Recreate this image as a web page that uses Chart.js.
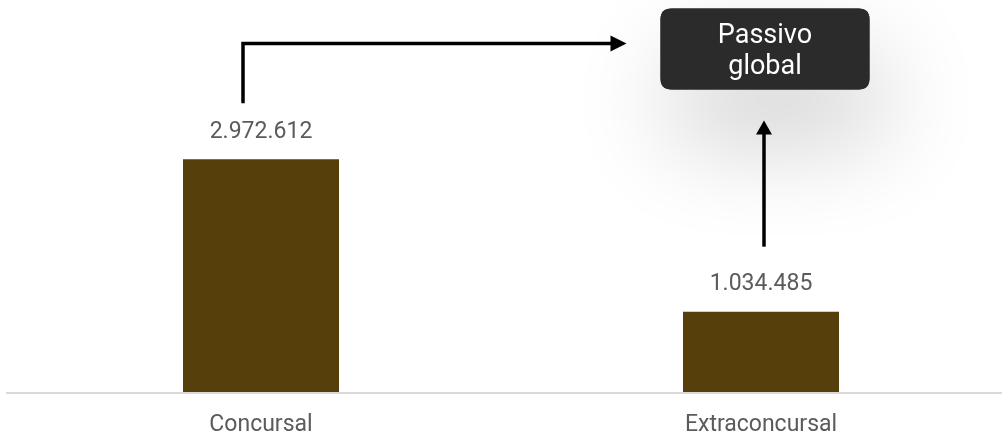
<!DOCTYPE html>
<html><head><meta charset="utf-8">
<script src="https://cdn.jsdelivr.net/npm/chart.js@4.4.1/dist/chart.umd.min.js"></script>
<style>
html,body{margin:0;padding:0;background:#fff;overflow:hidden;width:1002px;height:438px}
#wrap{position:relative;width:1016px;height:438px}
canvas{display:block}
</style></head><body><div id="wrap"><canvas id="c" width="1016" height="438"></canvas></div>
<script>
const categories = ['Concursal', 'Extraconcursal'];
const values = [2972612, 1034485];
const boxLabel = ['Passivo', 'global'];
const yMax = 5000000;

const barColor = '#563f0b';
const textColor = '#5b5b5b';

function fmt(n) {
  return String(Math.round(n)).replace(/\B(?=(\d{3})+(?!\d))/g, '.');
}

function roundRect(ctx, x, y, w, h, r) {
  ctx.beginPath();
  ctx.moveTo(x + r, y);
  ctx.lineTo(x + w - r, y);
  ctx.quadraticCurveTo(x + w, y, x + w, y + r);
  ctx.lineTo(x + w, y + h - r);
  ctx.quadraticCurveTo(x + w, y + h, x + w - r, y + h);
  ctx.lineTo(x + r, y + h);
  ctx.quadraticCurveTo(x, y + h, x, y + h - r);
  ctx.lineTo(x, y + r);
  ctx.quadraticCurveTo(x, y, x + r, y);
  ctx.closePath();
}

const overlay = {
  id: 'overlay',
  afterDatasetsDraw(chart) {
    const ctx = chart.ctx;
    const meta = chart.getDatasetMeta(0);
    const yScale = chart.scales.y;
    const base = yScale.getPixelForValue(0);

    // baseline
    ctx.save();
    ctx.strokeStyle = '#d9d9d9';
    ctx.lineWidth = 2;
    ctx.beginPath();
    ctx.moveTo(6, base);
    ctx.lineTo(1002, base);
    ctx.stroke();
    ctx.restore();

    // value labels
    ctx.save();
    ctx.font = '23px Roboto';
    ctx.fillStyle = textColor;
    ctx.textAlign = 'center';
    ctx.textBaseline = 'middle';
    meta.data.forEach((bar, i) => {
      ctx.fillText(fmt(values[i]), bar.x, bar.y - 27);
    });
    ctx.restore();

    const b1 = meta.data[0], b2 = meta.data[1];
    const boxCx = b2.x + 4;
    const boxW = 209, boxH = 81, boxTop = 8.5;
    const boxL = boxCx - boxW / 2;

    // box with soft shadow
    ctx.save();
    ctx.shadowColor = 'rgba(0,0,0,0.2)';
    ctx.shadowBlur = 100;
    ctx.shadowOffsetY = 50;
    ctx.shadowOffsetX = 12;
    ctx.fillStyle = '#2b2b2b';
    roundRect(ctx, boxL, boxTop, boxW, boxH, 11);
    ctx.fill();
    ctx.restore();
    ctx.save();
    ctx.fillStyle = '#2b2b2b';
    roundRect(ctx, boxL, boxTop, boxW, boxH, 11);
    ctx.fill();
    ctx.fillStyle = '#ffffff';
    ctx.font = '27px Roboto';
    ctx.textAlign = 'center';
    ctx.textBaseline = 'alphabetic';
    ctx.fillText(boxLabel[0], boxCx, 42.5);
    ctx.fillText(boxLabel[1], boxCx, 73.5);
    ctx.restore();

    // arrows
    ctx.save();
    ctx.strokeStyle = '#000';
    ctx.fillStyle = '#000';
    ctx.lineWidth = 3.5;
    ctx.lineJoin = 'miter';
    const ax = b1.x - 18;
    const ay = 43.5;
    const headTip = boxL - 34;
    ctx.beginPath();
    ctx.moveTo(ax, b1.y - 56);
    ctx.lineTo(ax, ay);
    ctx.lineTo(headTip - 14, ay);
    ctx.stroke();
    ctx.beginPath();
    ctx.moveTo(headTip, ay);
    ctx.lineTo(headTip - 16, ay - 8);
    ctx.lineTo(headTip - 16, ay + 8);
    ctx.closePath();
    ctx.fill();

    const vx = boxCx - 1;
    const vTip = boxTop + boxH + 31;
    ctx.beginPath();
    ctx.moveTo(vx, b2.y - 65);
    ctx.lineTo(vx, vTip + 12);
    ctx.stroke();
    ctx.beginPath();
    ctx.moveTo(vx, vTip);
    ctx.lineTo(vx - 8, vTip + 14);
    ctx.lineTo(vx + 8, vTip + 14);
    ctx.closePath();
    ctx.fill();
    ctx.restore();
  }
};

new Chart(document.getElementById('c'), {
  type: 'bar',
  data: {
    labels: categories,
    datasets: [{
      data: values,
      backgroundColor: barColor,
      borderWidth: 0,
      barPercentage: 0.312,
      categoryPercentage: 1
    }]
  },
  options: {
    responsive: false,
    animation: false,
    devicePixelRatio: 1,
    layout: { padding: { left: 11, right: 5, top: 0, bottom: 0 } },
    plugins: { legend: { display: false }, tooltip: { enabled: false } },
    scales: {
      x: {
        grid: { display: false, drawTicks: false },
        border: { display: false },
        ticks: { font: { family: 'Roboto', size: 23 }, color: textColor, padding: 18 },
        afterFit(scale) { scale.height = 45; }
      },
      y: {
        display: false,
        min: 0,
        max: yMax
      }
    }
  },
  plugins: [overlay]
});
</script>
</body></html>
